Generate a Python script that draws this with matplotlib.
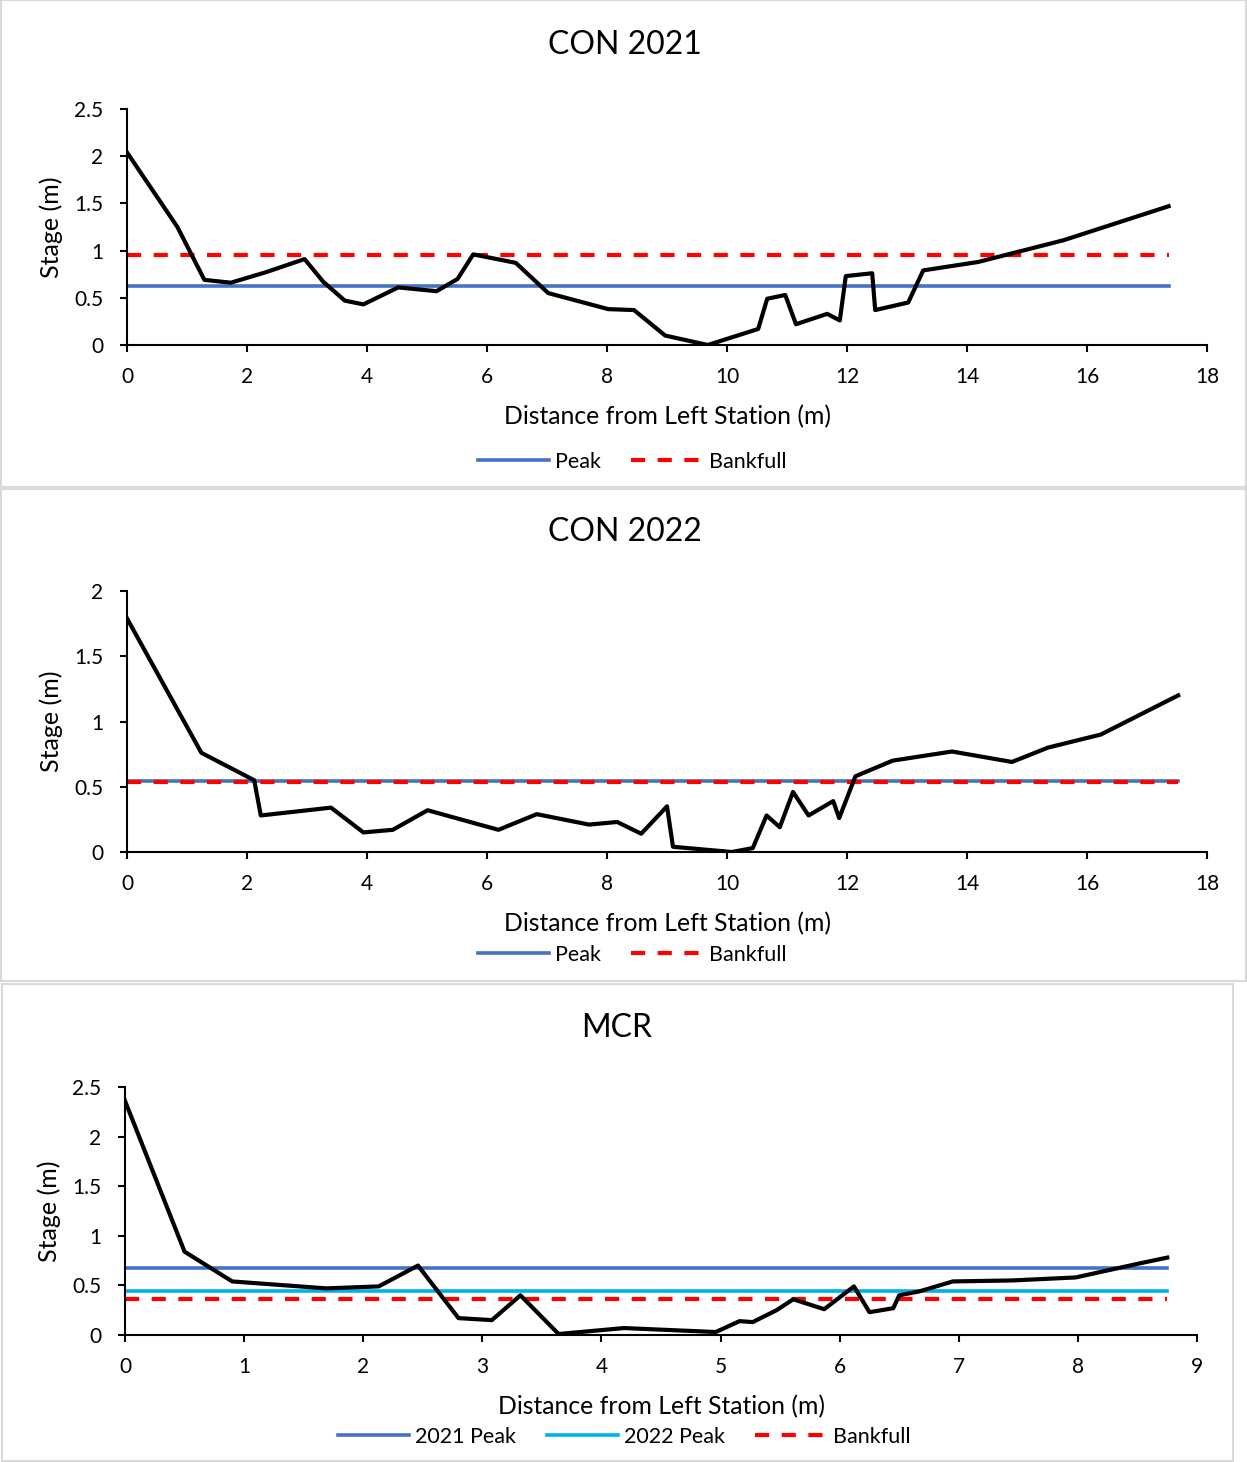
import matplotlib
matplotlib.use("Agg")
import matplotlib.pyplot as plt
from matplotlib.patches import Rectangle

plt.rcParams['font.family'] = ['Liberation Sans Narrow', 'Lato', 'DejaVu Sans']

# cross-section profiles: distance from left station (m) vs stage (m)
con21_x = [0, 0.84, 1.29, 1.73, 2.31, 2.96, 3.27, 3.63, 3.94, 4.52, 5.16, 5.51, 5.77,
           6.48, 7.02, 8.02, 8.45, 8.97, 9.68, 10.52, 10.67, 10.97, 11.15, 11.67, 11.88,
           11.98, 12.42, 12.47, 13.02, 13.27, 14.19, 15.61, 17.36]
con21_y = [2.04, 1.25, 0.69, 0.66, 0.77, 0.91, 0.67, 0.47, 0.43, 0.61, 0.57, 0.70, 0.96,
           0.87, 0.55, 0.38, 0.37, 0.10, 0.00, 0.17, 0.49, 0.53, 0.22, 0.33, 0.26,
           0.73, 0.76, 0.37, 0.45, 0.79, 0.88, 1.11, 1.47]
con21_peak = 0.625
con21_bankfull = 0.955

con22_x = [0, 1.24, 2.12, 2.23, 3.40, 3.94, 4.43, 5.01, 6.19, 6.83, 7.70, 8.17, 8.57,
           9.00, 9.10, 10.08, 10.43, 10.66, 10.88, 11.10, 11.36, 11.77, 11.87, 12.14,
           12.76, 13.75, 14.75, 15.35, 16.23, 17.52]
con22_y = [1.79, 0.76, 0.55, 0.28, 0.34, 0.15, 0.17, 0.32, 0.17, 0.29, 0.21, 0.23, 0.14,
           0.35, 0.04, 0.00, 0.03, 0.28, 0.19, 0.46, 0.28, 0.39, 0.26, 0.58,
           0.70, 0.77, 0.69, 0.80, 0.90, 1.20]
con22_peak = 0.545
con22_bankfull = 0.54

mcr_x = [0, 0.50, 0.90, 1.69, 2.13, 2.46, 2.80, 3.08, 3.32, 3.64, 4.19, 4.96, 5.16,
         5.27, 5.47, 5.61, 5.87, 6.12, 6.25, 6.45, 6.50, 6.67, 6.95, 7.45, 7.98, 8.55, 8.75]
mcr_y = [2.36, 0.84, 0.54, 0.47, 0.49, 0.70, 0.17, 0.15, 0.40, 0.01, 0.07, 0.03, 0.14,
         0.13, 0.25, 0.36, 0.26, 0.49, 0.23, 0.27, 0.40, 0.44, 0.54, 0.55, 0.58, 0.73, 0.78]
mcr_peak_2021 = 0.675
mcr_peak_2022 = 0.447
mcr_bankfull = 0.365

W, H = 1247, 1462
BLUE = '#4472C4'
CYAN = '#00B0F0'
RED = '#FF0000'
DASH = (0, (3.4, 3.0))
LW_PROFILE = 3.0
LW_PEAK = 2.6
LW_BANK = 3.0

fig = plt.figure(figsize=(W / 100, H / 100), dpi=100)


def px_axes(left, top, right, bottom):
    return fig.add_axes([left / W, 1 - bottom / H, (right - left) / W, (bottom - top) / H])


def frame(left, top, right, bottom):
    fig.patches.append(Rectangle((left / W, 1 - bottom / H), (right - left) / W,
                                 (bottom - top) / H, transform=fig.transFigure,
                                 fill=False, edgecolor='#D9D9D9', linewidth=1.5))


def style(ax, xmax, xstep, ymax, ystep, title, title_x, title_y):
    ax.set_xlim(0, xmax)
    ax.set_ylim(0, ymax)
    xt = [i * xstep for i in range(int(round(xmax / xstep)) + 1)]
    yt = [i * ystep for i in range(int(round(ymax / ystep)) + 1)]
    ax.set_xticks(xt)
    ax.set_xticklabels([f'{v:g}' for v in xt])
    ax.set_yticks(yt)
    ax.set_yticklabels([f'{v:g}' for v in yt])
    for s in ['top', 'right']:
        ax.spines[s].set_visible(False)
    for s in ['left', 'bottom']:
        ax.spines[s].set_linewidth(1.5)
        ax.spines[s].set_color('black')
    ax.tick_params(direction='out', length=5, width=1.5, labelsize=15, colors='black')
    ax.tick_params(axis='x', pad=11)
    ax.tick_params(axis='y', pad=12)
    ax.set_xlabel('Distance from Left Station (m)', fontsize=17.8, labelpad=13)
    ax.set_ylabel('Stage (m)', fontsize=18, labelpad=8)
    fig.text(title_x / W, 1 - title_y / H, title, ha='center', va='center', fontsize=23)


def legend(handles, cx, cy):
    fig.legend(handles=handles, loc='center', bbox_to_anchor=(cx / W, 1 - cy / H),
               ncol=len(handles), frameon=False, fontsize=15.5, handlelength=3.3,
               handletextpad=0.3, columnspacing=1.4)


# CON 2021
ax1 = px_axes(127, 109, 1207, 345)
ax1.plot(con21_x, con21_y, color='black', lw=LW_PROFILE, zorder=3)
l1, = ax1.plot([0, con21_x[-1]], [con21_peak, con21_peak], color=BLUE, lw=LW_PEAK,
               label='Peak')
l2, = ax1.plot([0, con21_x[-1]], [con21_bankfull, con21_bankfull], color=RED, lw=LW_BANK,
               linestyle=DASH, label='Bankfull')
style(ax1, 18, 2, 2.5, 0.5, 'CON 2021', 625, 45)
legend([l1, l2], 632, 462)
frame(1, 0, 1246, 487)

# CON 2022
ax2 = px_axes(127, 591, 1207, 852)
ax2.plot(con22_x, con22_y, color='black', lw=LW_PROFILE, zorder=3)
l1, = ax2.plot([0, con22_x[-1]], [con22_peak, con22_peak], color=BLUE, lw=LW_PEAK,
               label='Peak')
l2, = ax2.plot([0, con22_x[-1]], [con22_bankfull, con22_bankfull], color=RED, lw=LW_BANK,
               linestyle=DASH, label='Bankfull')
style(ax2, 18, 2, 2, 0.5, 'CON 2022', 625, 532)
legend([l1, l2], 632, 955)
frame(1, 489, 1246, 981)

# MCR
ax3 = px_axes(125, 1087, 1197, 1335)
ax3.plot(mcr_x, mcr_y, color='black', lw=LW_PROFILE, zorder=3)
l1, = ax3.plot([0, mcr_x[-1]], [mcr_peak_2021, mcr_peak_2021], color=BLUE, lw=LW_PEAK,
               label='2021 Peak')
l2, = ax3.plot([0, mcr_x[-1]], [mcr_peak_2022, mcr_peak_2022], color=CYAN, lw=LW_PEAK,
               label='2022 Peak')
l3, = ax3.plot([0, mcr_x[-1]], [mcr_bankfull, mcr_bankfull], color=RED, lw=LW_BANK,
               linestyle=DASH, label='Bankfull')
style(ax3, 9, 1, 2.5, 0.5, 'MCR', 617, 1028)
legend([l1, l2, l3], 624, 1437)
frame(2, 984, 1233, 1461)

fig.savefig('out.png', dpi=100)
